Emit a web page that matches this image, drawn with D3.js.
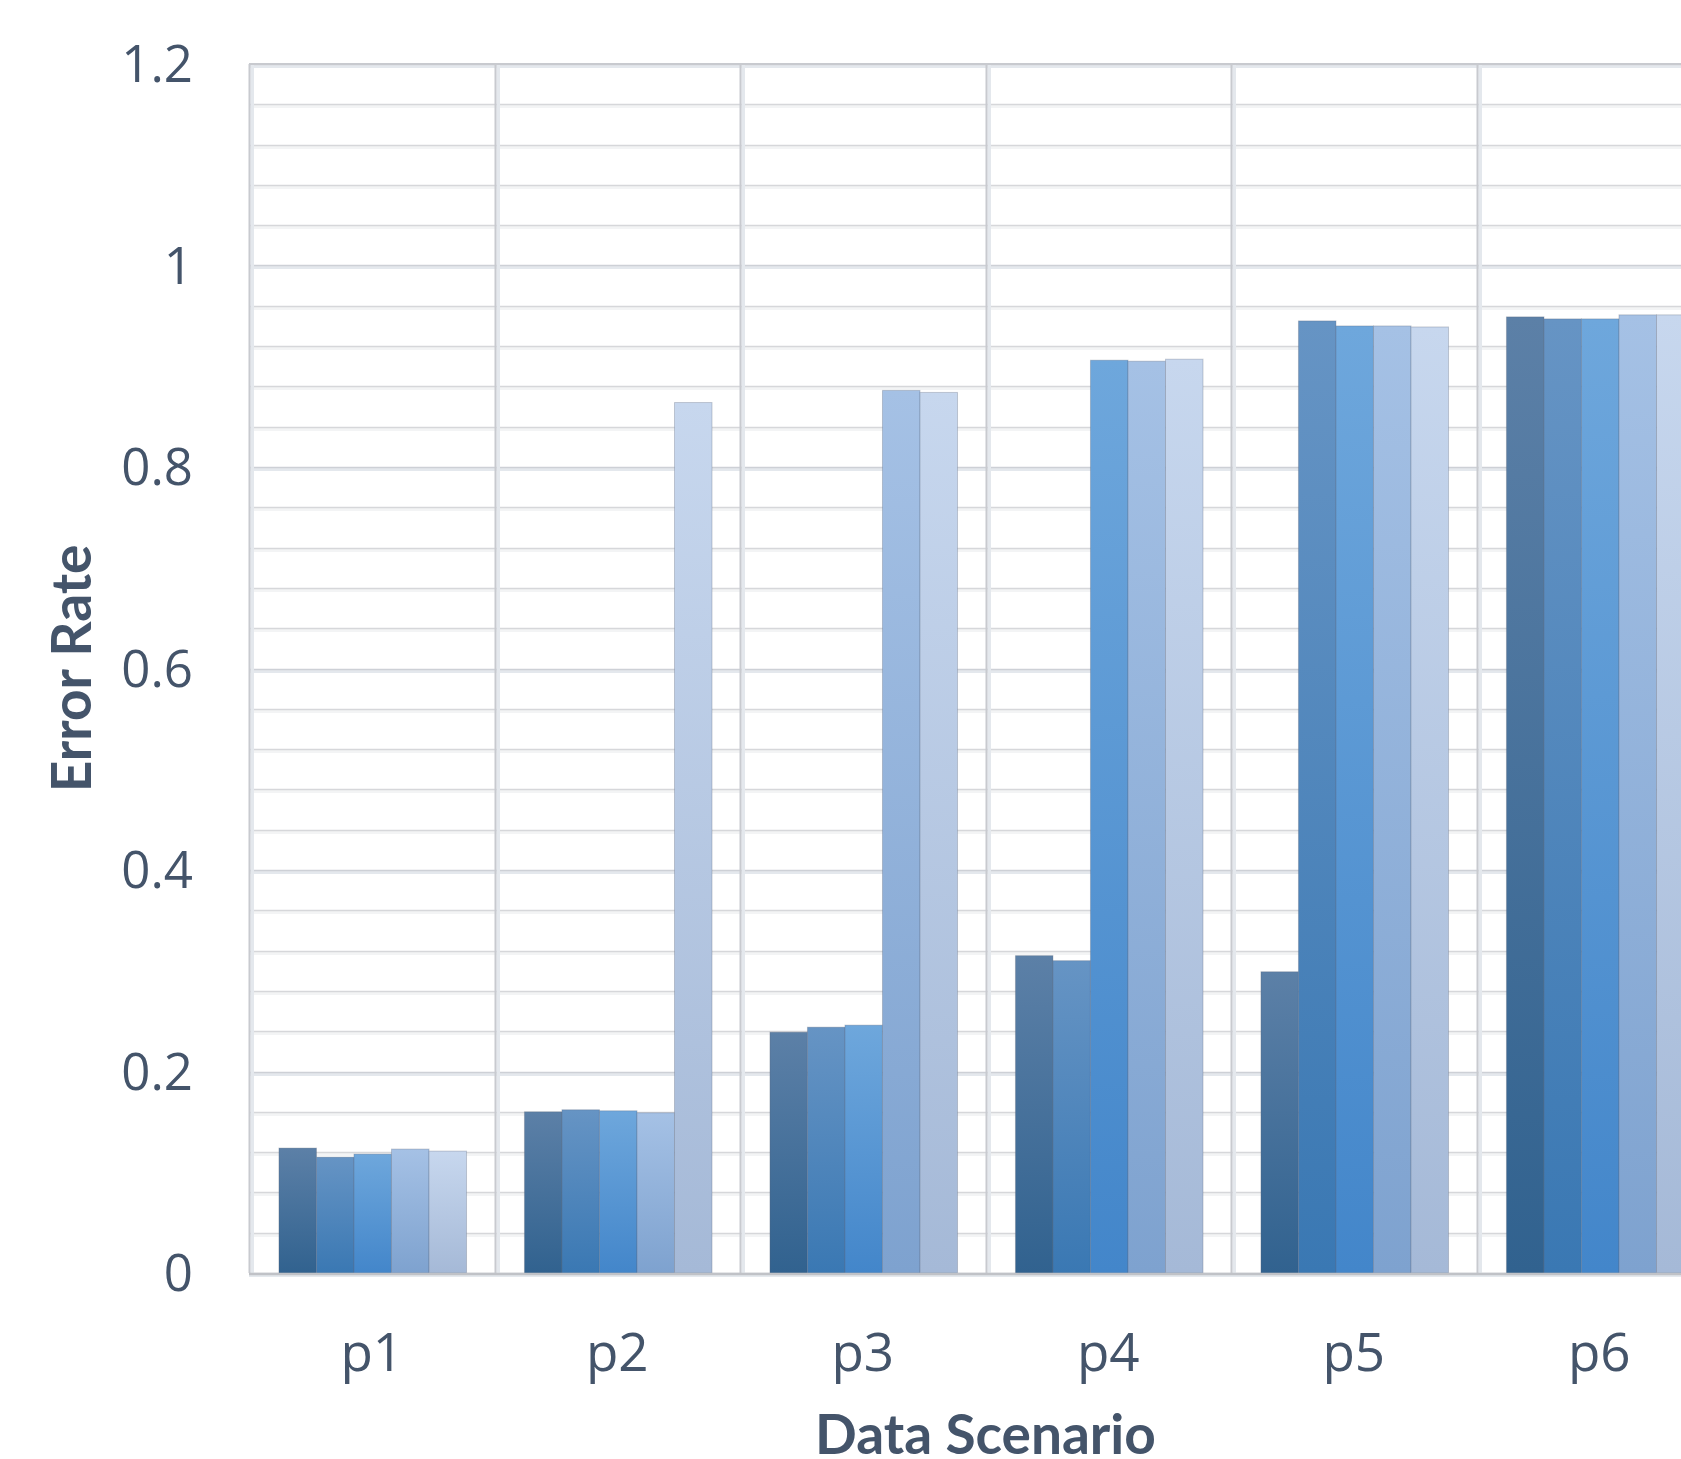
<!DOCTYPE html>
<html><head><meta charset="utf-8">
<script src="https://cdn.jsdelivr.net/npm/d3@7"></script>
<style>html,body{margin:0;padding:0;background:#fff;overflow:hidden}</style>
</head><body><svg id="c" width="1681" height="1459"></svg>
<script>
const categories = ["p1","p2","p3","p4","p5","p6"];
const seriesNames = ["S1","S2","S3","S4","S5"];
const s1 = [0.124, 0.160, 0.239, 0.315, 0.299, 0.949];
const s2 = [0.115, 0.162, 0.244, 0.310, 0.945, 0.947];
const s3 = [0.118, 0.161, 0.246, 0.906, 0.940, 0.947];
const s4 = [0.123, 0.159, 0.876, 0.905, 0.940, 0.951];
const s5 = [0.121, 0.864, 0.874, 0.907, 0.939, 0.951];
const majorTicks = [0, 0.2, 0.4, 0.6, 0.8, 1, 1.2];
const minorTicks = [0,0.04,0.08,0.12,0.16,0.2,0.24,0.28,0.32,0.36,0.4,0.44,0.48,0.52,0.56,0.6,0.64,0.68,0.72,0.76,0.8,0.84,0.88,0.92,0.96,1,1.04,1.08,1.12,1.16,1.2];
const seriesColors = [["#5c80a7","#31628f"],["#6694c4","#3a78b3"],["#6ea7dc","#4386ca"],["#a5c1e5","#7ea2cf"],["#c7d7ee","#a5b9d7"]];
const allSeries = [s1,s2,s3,s4,s5];

const svg = d3.select("#c");
const L = 249, R = 1722, T = 64, B = 1273;
const x = d3.scaleBand().domain(categories).range([L, R]).padding(0);
const bw = x.bandwidth();
const x1 = d3.scaleBand().domain(seriesNames).range([bw*0.122, bw*0.886]).padding(0);
const y = d3.scaleLinear().domain([0, 1.2]).range([B, T]);

const defs = svg.append("defs");
seriesColors.forEach((c,i)=>{
  const g = defs.append("linearGradient").attr("id","g"+i).attr("x1",0).attr("y1",0).attr("x2",0).attr("y2",1);
  g.append("stop").attr("offset","0%").attr("stop-color",c[0]);
  g.append("stop").attr("offset","100%").attr("stop-color",c[1]);
});

const grid = svg.append("g");
minorTicks.forEach(v=>{
  const major = majorTicks.some(m=>Math.abs(m-v)<1e-6);
  const yy = Math.round(y(v));
  grid.append("rect").attr("x",L).attr("width",R-L).attr("y",yy+1).attr("height",3)
    .attr("fill", major ? "#e4e8ed" : "#f3f4f5");
  grid.append("line").attr("x1",L).attr("x2",R).attr("y1",yy+0.5).attr("y2",yy+0.5)
    .attr("stroke", major ? "#cdd0d6" : "#d6d7da").attr("stroke-width",1.5);
});
categories.forEach((c,i)=>{
  const xx = Math.round(x(c));
  grid.append("rect").attr("x",xx+1.5).attr("width",3.5).attr("y",T).attr("height",B-T).attr("fill","#e4e8ed");
  grid.append("line").attr("x1",xx+0.5).attr("x2",xx+0.5).attr("y1",T).attr("y2",B)
    .attr("stroke", "#c8cacf").attr("stroke-width",2);
});
grid.append("line").attr("x1",L).attr("x2",R).attr("y1",T).attr("y2",T).attr("stroke","#c8cacf").attr("stroke-width",2);

const groups = svg.append("g").selectAll("g").data(categories).join("g")
  .attr("transform", d=>`translate(${x(d)},0)`);
groups.selectAll("rect").data((d,ci)=>seriesNames.map((s,si)=>({s, si, v: allSeries[si][ci]})))
  .join("rect")
  .attr("x", d=>x1(d.s)).attr("width", x1.bandwidth())
  .attr("y", d=>y(d.v)).attr("height", d=>B - y(d.v))
  .attr("fill", d=>`url(#g${d.si})`)
  .attr("stroke","rgba(90,100,120,0.3)").attr("stroke-width",1);

svg.append("line").attr("x1",L).attr("x2",R).attr("y1",B+1).attr("y2",B+1).attr("stroke","#c0c2c7").attr("stroke-width",2.5);

const yAxis = d3.axisLeft(y).tickValues(majorTicks).tickSize(0).tickPadding(0).tickFormat(d3.format("~g"));
const ya = svg.append("g").attr("transform",`translate(${L-56},0)`).call(yAxis);
ya.select(".domain").remove();
ya.selectAll("text").attr("font-family","'Open Sans'").attr("font-size",51).attr("fill","#44546a").attr("dy","0.35em");

const xAxis = d3.axisBottom(x).tickSize(0).tickPadding(0);
const xa = svg.append("g").attr("transform",`translate(0,${B})`).call(xAxis);
xa.select(".domain").remove();
xa.selectAll("text").attr("font-family","'Open Sans'").attr("font-size",53).attr("fill","#44546a").attr("dy",null).attr("y",98);

svg.append("text").attr("x",(L+R)/2).attr("y",1454).attr("text-anchor","middle")
  .attr("font-family","Lato").attr("font-weight","bold").attr("font-size",55).attr("fill","#44546a").text("Data Scenario");
svg.append("text").attr("transform",`translate(91,${y(0.6)}) rotate(-90)`).attr("text-anchor","middle")
  .attr("font-family","Lato").attr("font-weight","bold").attr("font-size",55).attr("fill","#44546a").text("Error Rate");
</script></body></html>
